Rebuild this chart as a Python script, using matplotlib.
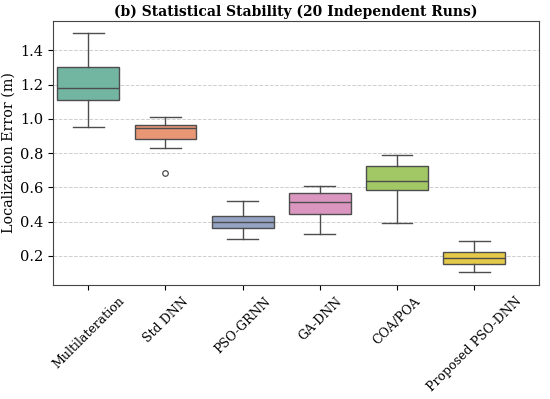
import colorsys
import matplotlib
matplotlib.use("Agg")
import matplotlib.pyplot as plt
import matplotlib.colors as mcolors

# methods compared (x categories)
methods = ["Multilateration", "Std DNN", "PSO-GRNN", "GA-DNN", "COA/POA", "Proposed PSO-DNN"]

# box statistics (m)
whislo = [0.95, 0.83, 0.30, 0.325, 0.39, 0.103]
q1 = [1.112, 0.883, 0.362, 0.443, 0.585, 0.153]
med = [1.182, 0.945, 0.400, 0.513, 0.636, 0.185]
q3 = [1.300, 0.964, 0.433, 0.566, 0.727, 0.222]
whishi = [1.50, 1.01, 0.517, 0.608, 0.787, 0.288]
fliers = [[], [0.684], [], [], [], []]

# Set2 palette, toned down like seaborn does
set2 = ["#66c2a5", "#fc8d62", "#8da0cb", "#e78ac3", "#a6d854", "#ffd92f"]


def desaturate(c, prop=0.75):
    r, g, b = mcolors.to_rgb(c)
    h, l, s = colorsys.rgb_to_hls(r, g, b)
    return colorsys.hls_to_rgb(h, l, s * prop)


colors = [desaturate(c) for c in set2]

plt.rcParams["font.family"] = "DejaVu Serif"

stats = []
for i in range(len(methods)):
    stats.append({"whislo": whislo[i], "q1": q1[i], "med": med[i], "q3": q3[i],
                  "whishi": whishi[i], "fliers": fliers[i], "label": methods[i]})

fig, ax = plt.subplots(figsize=(5.5, 3.99), dpi=100)
fig.subplots_adjust(left=0.096, right=0.98, top=0.947, bottom=0.286)

line_col = "#4d4d4d"
bp = ax.bxp(stats, positions=range(len(methods)), widths=0.8, capwidths=0.4,
            patch_artist=True, showfliers=True,
            boxprops=dict(edgecolor=line_col, linewidth=1.0),
            medianprops=dict(color=line_col, linewidth=1.0),
            whiskerprops=dict(color=line_col, linewidth=1.0),
            capprops=dict(color=line_col, linewidth=1.0),
            flierprops=dict(marker="o", markersize=4, markerfacecolor="none",
                            markeredgecolor=line_col, markeredgewidth=0.9))
for patch, c in zip(bp["boxes"], colors):
    patch.set_facecolor(c)

ax.set_xlim(-0.46, 5.84)
ax.set_ylim(0.03, 1.57)
ax.set_yticks([0.2, 0.4, 0.6, 0.8, 1.0, 1.2, 1.4])
ax.set_xticks(range(len(methods)))
ax.set_xticklabels(methods, rotation=45, fontsize=9)
ax.tick_params(axis="y", labelsize=10.5)
ax.set_axisbelow(True)
ax.yaxis.grid(True, linestyle="--", color="#bbbbbb", linewidth=0.7, alpha=0.7)
for sp in ax.spines.values():
    sp.set_color("#444444")
ax.set_ylabel("Localization Error (m)", fontsize=10.3, labelpad=3)
ax.set_title("(b) Statistical Stability (20 Independent Runs)", fontsize=10, fontweight="bold", pad=4)

fig.savefig("out.png", dpi=100)
